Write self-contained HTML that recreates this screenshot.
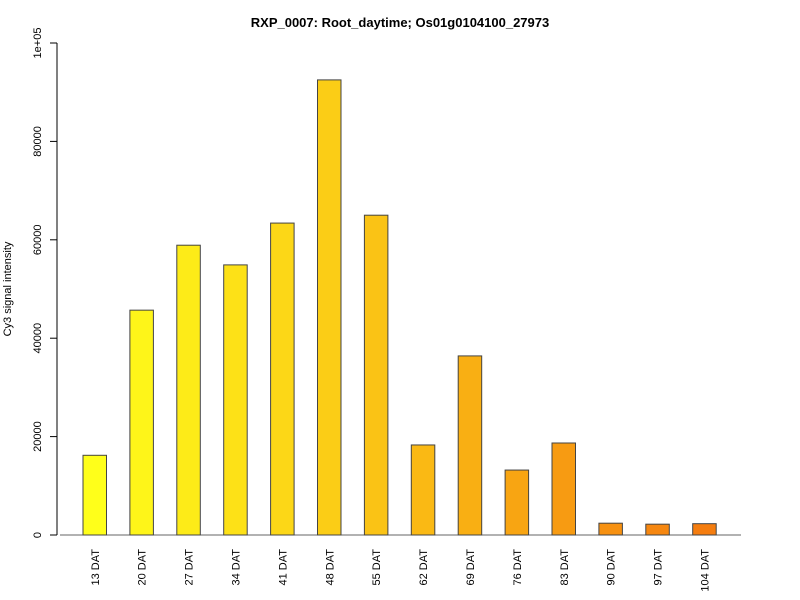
<!DOCTYPE html>
<html><head><style>body{margin:0;background:#fff}svg{display:block;font-family:"Liberation Sans",sans-serif}</style></head>
<body>
<svg id="chart" width="800" height="600">
<text x="400" y="27" text-anchor="middle" font-weight="bold" font-size="13">RXP_0007: Root_daytime; Os01g0104100_27973</text>
<text transform="translate(11,289) rotate(-90)" text-anchor="middle" font-size="11">Cy3 signal intensity</text>
<g id="yaxis"></g>
<g id="bars"></g>
<g id="xlabels"></g>
</svg>
<script>
const categories=["13 DAT","20 DAT","27 DAT","34 DAT","41 DAT","48 DAT","55 DAT","62 DAT","69 DAT","76 DAT","83 DAT","90 DAT","97 DAT","104 DAT"];
const values=[16200,45700,58900,54900,63400,92500,65000,18300,36400,13200,18700,2400,2200,2300];
const yTicks=[0,20000,40000,60000,80000,100000];
const yTickLabels=["0","20000","40000","60000","80000","1e+05"];
const NS="http://www.w3.org/2000/svg";
const y0=535,yTop=43,yMax=100000;
const y=v=>y0-(y0-yTop)*v/yMax;
const x=i=>83+i*46.9;
const bw=23.5;
function mk(t,a,p){const e=document.createElementNS(NS,t);for(const k in a)e.setAttribute(k,a[k]);p.appendChild(e);return e;}
const ya=document.getElementById('yaxis');
const al=mk('line',{x1:57,x2:57,y1:y(0),y2:y(yMax),stroke:'#000'},ya);


yTicks.forEach((t,i)=>{
 const tk=mk('line',{x1:50,x2:57,y1:y(t),y2:y(t),stroke:'#000'},ya);
 
 
 const tx=mk('text',{transform:`translate(41,${y(t)}) rotate(-90)`,'text-anchor':'middle','font-size':'11'},ya);
 tx.textContent=yTickLabels[i];
 
 
});
const bars=document.getElementById('bars');
const base=mk('line',{x1:60,x2:741,y1:y0,y2:y0,stroke:'#666'},bars);


const c0=[255,255,26],c1=[245,125,15];
const xl=document.getElementById('xlabels');
values.forEach((v,i)=>{
 const f=i/(values.length-1);
 const c=c0.map((a,k)=>Math.round(a+(c1[k]-a)*f));
 const r=mk('rect',{x:x(i),y:y(v),width:bw,height:y0-y(v),fill:`rgb(${c})`,stroke:'#444','stroke-width':1},bars);
 
 
 const t=mk('text',{transform:`translate(${x(i)+bw/2+4},549) rotate(-90)`,'text-anchor':'end','font-size':'11'},xl);
 t.textContent=categories[i];
 
 
});
</script>
</body></html>
